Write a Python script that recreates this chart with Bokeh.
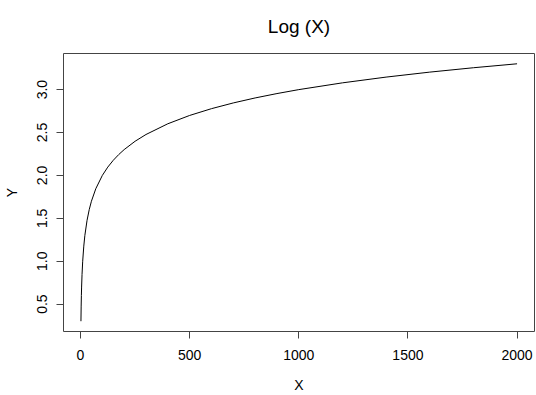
from bokeh.plotting import figure
from bokeh.models import Range1d, FixedTicker, Title
from bokeh.embed import file_html
from bokeh.resources import INLINE

# Values
x_vals = [2, 3, 4, 5, 7, 10, 15, 20, 30, 40, 50, 70, 100, 125, 150, 175, 200, 250,
          300, 400, 500, 600, 700, 800, 900, 1000, 1200, 1400, 1600, 1800, 2000]
y_vals = [0.301, 0.477, 0.602, 0.699, 0.845, 1.000, 1.176, 1.301, 1.477, 1.602,
          1.699, 1.845, 2.000, 2.097, 2.176, 2.243, 2.301, 2.398, 2.477, 2.602,
          2.699, 2.778, 2.845, 2.903, 2.954, 3.000, 3.079, 3.146, 3.204, 3.255, 3.301]

x_ticks = [0, 500, 1000, 1500, 2000]
x_tick_labels = ["0", "500", "1000", "1500", "2000"]
y_ticks = [0.5, 1.0, 1.5, 2.0, 2.5, 3.0]
y_tick_labels = ["0.5", "1.0", "1.5", "2.0", "2.5", "3.0"]

title_text = "Log (X)"
x_label = "X"
y_label = "Y"

FONT = "Liberation Sans"

xpad = (max(x_vals) - min(x_vals)) * 0.04
ypad = (max(y_vals) - min(y_vals)) * 0.04

p = figure(width=536, height=395, output_backend="svg", toolbar_location=None,
           x_range=Range1d(min(x_vals) - xpad, max(x_vals) + xpad),
           y_range=Range1d(min(y_vals) - ypad, max(y_vals) + ypad),
           min_border_left=63, min_border_right=2, min_border_top=0,
           min_border_bottom=64)
p.title = None
p.add_layout(Title(text=title_text, align="center", vertical_align="top",
                   text_font=FONT, text_font_size="19px", text_font_style="normal",
                   text_color="black", standoff=30), "above")

p.line(x_vals, y_vals, line_color="black", line_width=1)

p.grid.visible = False
p.background_fill_color = "white"
p.border_fill_color = "white"
p.outline_line_color = "#444444"
p.outline_line_width = 1

for ax in (p.xaxis[0], p.yaxis[0]):
    ax.axis_line_color = None
    ax.major_tick_in = 0
    ax.major_tick_out = 7
    ax.major_tick_line_color = "#444444"
    ax.minor_tick_line_color = None
    ax.major_label_text_font = FONT
    ax.major_label_text_font_size = "14px"
    ax.major_label_text_color = "black"
    ax.axis_label_text_font = FONT
    ax.axis_label_text_font_size = "14px"
    ax.axis_label_text_font_style = "normal"
    ax.axis_label_text_color = "black"
    ax.axis_label_text_line_height = 1.0
    ax.major_label_text_line_height = 1.0

p.xaxis[0].ticker = FixedTicker(ticks=x_ticks)
p.xaxis[0].major_label_overrides = dict(zip(x_ticks, x_tick_labels))
p.xaxis[0].major_label_standoff = 11
p.xaxis[0].axis_label = x_label
p.xaxis[0].axis_label_standoff = 14

p.yaxis[0].ticker = FixedTicker(ticks=y_ticks)
p.yaxis[0].major_label_overrides = dict(zip(y_ticks, y_tick_labels))
p.yaxis[0].major_label_orientation = "vertical"
p.yaxis[0].major_label_standoff = 9
p.yaxis[0].axis_label = y_label
p.yaxis[0].axis_label_standoff = 15

open("out.html", "w").write(file_html(p, INLINE))
